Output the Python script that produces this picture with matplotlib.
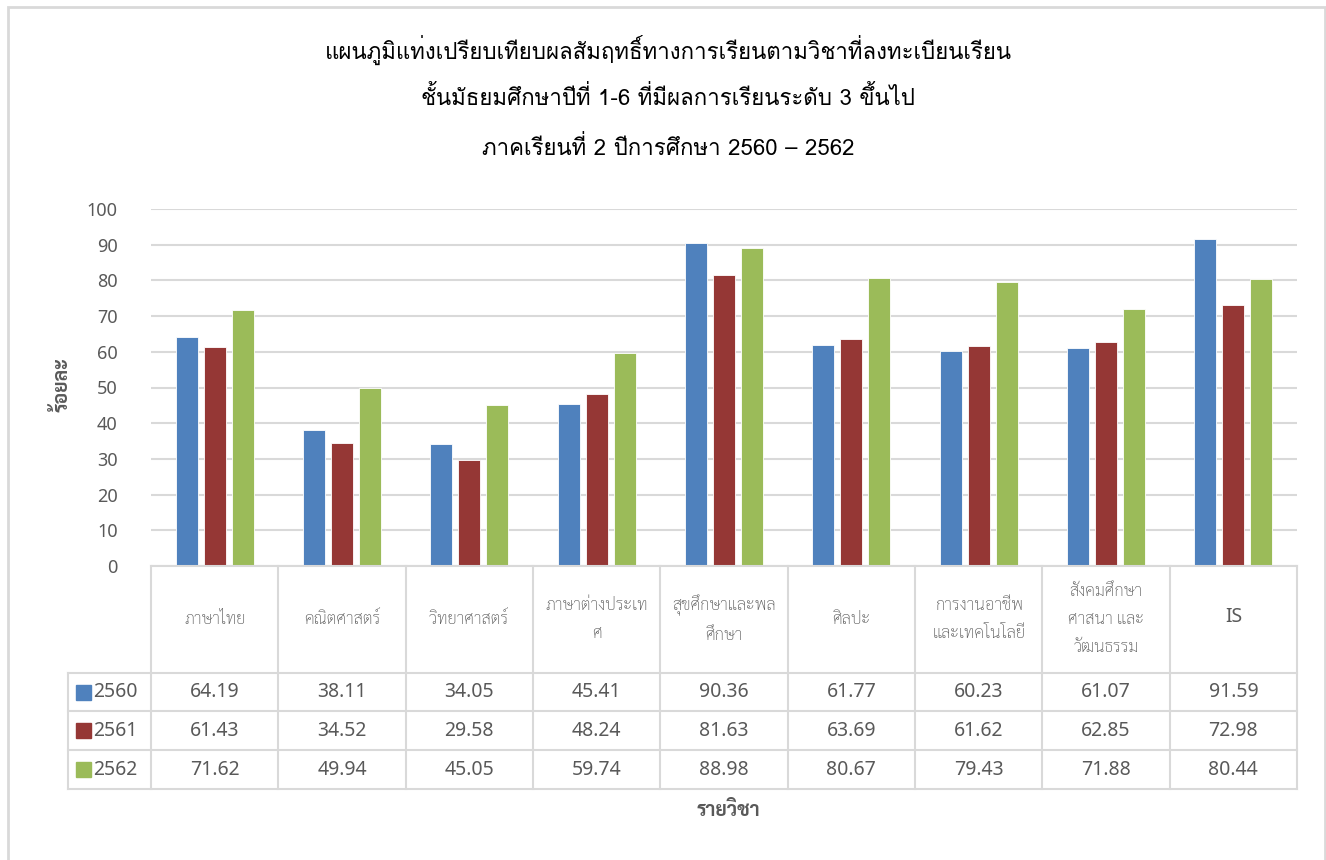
import numpy as np
import matplotlib
matplotlib.use("Agg")
import matplotlib.pyplot as plt
from matplotlib.patches import Rectangle

# ======================================================
# Data
# ======================================================

subjects = ["ภาษาไทย", "คณิตศาสตร์", "วิทยาศาสตร์", "ภาษาต่างประเท\nศ",
            "สุขศึกษาและพล\nศึกษา", "ศิลปะ", "การงานอาชีพ\nและเทคโนโลยี",
            "สังคมศึกษา\nศาสนา และ\nวัฒนธรรม", "IS"]
years = ["2560", "2561", "2562"]
score_2560 = [64.19, 38.11, 34.05, 45.41, 90.36, 61.77, 60.23, 61.07, 91.59]
score_2561 = [61.43, 34.52, 29.58, 48.24, 81.63, 63.69, 61.62, 62.85, 72.98]
score_2562 = [71.62, 49.94, 45.05, 59.74, 88.98, 80.67, 79.43, 71.88, 80.44]
yticks = [0, 10, 20, 30, 40, 50, 60, 70, 80, 90, 100]

title_lines = ["แผนภูมิแท่งเปรียบเทียบผลสัมฤทธิ์ทางการเรียนตามวิชาที่ลงทะเบียนเรียน",
               "ชั้นมัธยมศึกษาปีที่ 1-6 ที่มีผลการเรียนระดับ 3 ขึ้นไป",
               "ภาคเรียนที่ 2 ปีการศึกษา 2560 – 2562"]

colors = ["#4F81BD", "#953735", "#9BBB59"]
grid_c = "#D9D9D9"
text_c = "#595959"
NUM = ["Noto Sans Thai Looped", "DejaVu Sans"]
TITLE = ["Loma", "Noto Sans Thai Looped", "DejaVu Sans"]
THIN = ["Sarabun", "Noto Sans Thai Looped", "DejaVu Sans"]

W, H = 1326, 860
fig = plt.figure(figsize=(W / 100, H / 100), dpi=100)


def fx(px):
    return px / W


def fy(py):
    return 1 - py / H


# outer frame
fig.patches.append(Rectangle((fx(8), fy(872)), fx(1325) - fx(8), fy(7) - fy(872),
                             transform=fig.transFigure, fill=False,
                             edgecolor=grid_c, lw=2))

# ======================================================
# Bars
# ======================================================

left, right, top, bottom = 151, 1297, 209, 566
ax = fig.add_axes([fx(left), fy(bottom), fx(right) - fx(left), fy(top) - fy(bottom)])
x = np.arange(len(subjects))
width = 0.173
offsets = [-0.22, 0, 0.22]
for vals, c, off in zip([score_2560, score_2561, score_2562], colors, offsets):
    ax.bar(x + off, vals, width, color=c, edgecolor="white", linewidth=0.6, zorder=3)

ax.set_xlim(-0.5, len(subjects) - 0.5)
ax.set_ylim(0, 100)
ax.set_yticks(yticks)
ax.set_yticklabels([str(t) for t in yticks], fontsize=13, color=text_c, family=NUM)
ax.tick_params(axis="y", length=0, pad=24)
ax.set_xticks([])
ax.grid(axis="y", color=grid_c, lw=1.5, zorder=0)
for s in ax.spines.values():
    s.set_visible(False)

fig.text(fx(62), fy(385), "ร้อยละ", rotation=90, ha="center", va="center",
         fontsize=14, fontweight="bold", color=text_c, family=THIN)

# ======================================================
# Data table
# ======================================================

leg_left = 68
row_y = [566, 673, 711, 750, 789]
tb = fig.add_axes([fx(leg_left), fy(row_y[-1]), fx(right) - fx(leg_left),
                   fy(row_y[0]) - fy(row_y[-1])])
cat_w = (right - left) / len(subjects)
x0 = -0.5 - (left - leg_left) / cat_w
tb.set_xlim(x0, len(subjects) - 0.5)
tb.set_ylim(row_y[-1], row_y[0])
tb.axis("off")

lw = 1.5
tb.plot([-0.5, len(subjects) - 0.5], [row_y[0], row_y[0]], color=grid_c, lw=lw, clip_on=False)
for yy in row_y[1:]:
    tb.plot([x0, len(subjects) - 0.5], [yy, yy], color=grid_c, lw=lw, clip_on=False)
for i in range(len(subjects) + 1):
    xx = i - 0.5
    tb.plot([xx, xx], [row_y[0], row_y[-1]], color=grid_c, lw=lw, clip_on=False)
tb.plot([x0, x0], [row_y[1], row_y[-1]], color=grid_c, lw=lw, clip_on=False)

head_mid = (row_y[0] + row_y[1]) / 2
for i, name in enumerate(subjects):
    if name == "IS":
        tb.text(i, head_mid - 2, name, ha="center", va="center", fontsize=14,
                color=text_c, family=NUM)
    else:
        tb.text(i, head_mid, name, ha="center", va="center", fontsize=12,
                color=text_c, family=THIN, fontweight="light", linespacing=1.85)

for r, (yr, vals, c) in enumerate(zip(years, [score_2560, score_2561, score_2562], colors)):
    ymid = (row_y[r + 1] + row_y[r + 2]) / 2
    tb.add_patch(Rectangle((x0 + 8 / cat_w, ymid - 7.5), 15 / cat_w, 15, color=c, clip_on=False))
    tb.text(x0 + 25 / cat_w, ymid, yr, ha="left", va="center", fontsize=14,
            color=text_c, family=NUM)
    for i, v in enumerate(vals):
        tb.text(i, ymid, f"{v:.2f}", ha="center", va="center", fontsize=14,
                color=text_c, family=NUM)

fig.text(fx(728), fy(810), "รายวิชา", ha="center", va="center", fontsize=14,
         fontweight="bold", color=text_c, family=THIN)

# ======================================================
# Title
# ======================================================

for yy, line in zip([50, 98, 148], title_lines):
    fig.text(fx(668), fy(yy), line, ha="center", va="center", fontsize=16,
             color="black", family=TITLE)

fig.savefig("out.png", dpi=100)
